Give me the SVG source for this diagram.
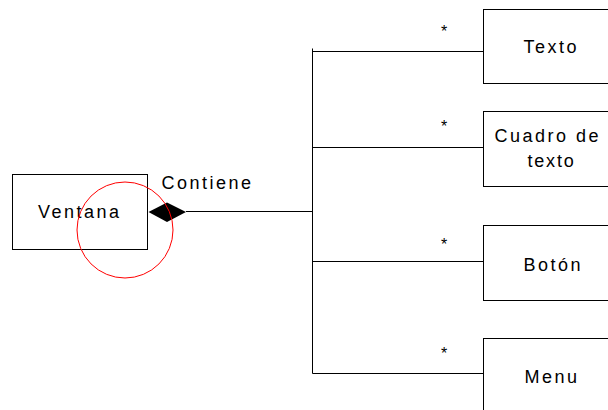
<svg xmlns="http://www.w3.org/2000/svg" width="608" height="410" viewBox="0 0 608 410">
  <style>
    .box { fill: #ffffff; stroke: #000000; stroke-width: 1; }
    .lbl { font-family: "Liberation Sans", Arial, sans-serif; font-size: 18px; letter-spacing: 2.5px; fill: #000000; }
    .mult { font-family: "Liberation Sans", Arial, sans-serif; font-size: 16px; fill: #000000; text-anchor: middle; }
    .wire { fill: none; stroke: #000000; stroke-width: 1; }
  </style>
  <rect width="608" height="410" fill="#ffffff"/>

  <!-- connectors: composition from Ventana to its parts -->
  <g id="connectors">
    <line class="wire" x1="186" y1="211.5" x2="312.5" y2="211.5"/>
    <line class="wire" x1="312.5" y1="48.5" x2="312.5" y2="373.5"/>
    <line class="wire" x1="312.5" y1="51.5" x2="483.5" y2="51.5"/>
    <line class="wire" x1="312.5" y1="147.5" x2="483.5" y2="147.5"/>
    <line class="wire" x1="312.5" y1="261.5" x2="483.5" y2="261.5"/>
    <line class="wire" x1="312.5" y1="373.5" x2="483.5" y2="373.5"/>
    <polygon points="148.5,212 167,202.5 186,212 167,222" fill="#000000"/>
    <text class="lbl" x="161.5" y="189">Contiene</text>
    <text class="mult" x="444" y="37">*</text>
    <text class="mult" x="444" y="132">*</text>
    <text class="mult" x="444" y="250">*</text>
    <text class="mult" x="444" y="359">*</text>
  </g>

  <g id="ventana">
    <rect class="box" x="12.5" y="174.5" width="135" height="75"/>
    <text class="lbl" x="38" y="217.5">Ventana</text>
  </g>

  <g id="texto">
    <rect class="box" x="483.5" y="9.5" width="140" height="74"/>
    <text class="lbl" x="523.5" y="53">Texto</text>
  </g>

  <g id="cuadro-de-texto">
    <rect class="box" x="483.5" y="111.5" width="140" height="75"/>
    <text class="lbl" x="494.5" y="142">Cuadro de</text>
    <text class="lbl" x="527.5" y="166.5" style="letter-spacing:1.8px">texto</text>
  </g>

  <g id="boton">
    <rect class="box" x="483.5" y="225.5" width="140" height="75"/>
    <text class="lbl" x="523.5" y="270.5">Botón</text>
  </g>

  <g id="menu">
    <rect class="box" x="483.5" y="338.5" width="140" height="80"/>
    <text class="lbl" x="524.5" y="382.5">Menu</text>
  </g>

  <!-- highlight ring -->
  <circle cx="125" cy="230" r="48" fill="none" stroke="#ff0000" stroke-width="1"/>
</svg>
